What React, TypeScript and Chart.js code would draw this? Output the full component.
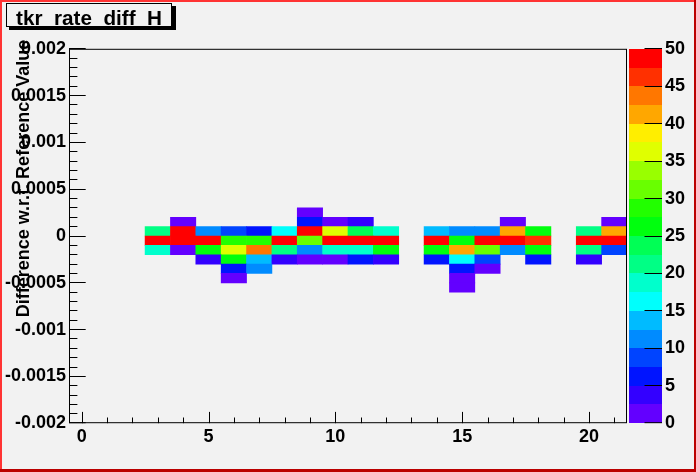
import React, { useEffect, useRef } from "react";
import { Chart, registerables } from "chart.js";

Chart.register(...registerables);

const FONT = "'Liberation Sans', Arial, Helvetica, sans-serif";

// ---------- data ----------
const chartTitle = "tkr_rate_diff_H";
const yTitle = "Difference w.r.t. Reference Value";

const xBins = [0, 1, 2, 3, 4, 5, 6, 7, 8, 9, 10, 11, 12, 13, 14, 15, 16, 17, 18, 19, 20, 21];
const yBinWidth = 0.0001;
// lower edges of the y bins that hold entries (top to bottom)
const yBinLows = [0.0002, 0.0001, 0, -0.0001, -0.0002, -0.0003, -0.0004, -0.0005, -0.0006];

// entries per x bin (0..21) for each y bin
const rowP2 = [0, 0, 0, 0, 0, 0, 0, 0, 0, 1, 0, 0, 0, 0, 0, 0, 0, 0, 0, 0, 0, 0];
const rowP1 = [0, 0, 0, 0, 1, 0, 0, 0, 0, 6, 1, 4, 0, 0, 0, 0, 0, 1, 0, 0, 0, 1];
const row0 = [0, 0, 0, 21, 55, 11, 9, 6, 16, 58, 36, 24, 19, 0, 14, 11, 11, 41, 26, 0, 21, 41];
const rowM1 = [0, 0, 0, 62, 70, 57, 29, 29, 60, 31, 66, 63, 59, 0, 61, 26, 64, 60, 46, 0, 68, 65];
const rowM2 = [0, 0, 0, 19, 1, 26, 36, 44, 21, 11, 19, 19, 26, 0, 26, 41, 31, 11, 26, 0, 21, 9];
const rowM3 = [0, 0, 0, 0, 0, 4, 26, 14, 4, 1, 1, 6, 4, 0, 6, 16, 9, 0, 6, 0, 4, 0];
const rowM4 = [0, 0, 0, 0, 0, 0, 6, 11, 0, 0, 0, 0, 0, 0, 0, 6, 1, 0, 0, 0, 0, 0];
const rowM5 = [0, 0, 0, 0, 0, 0, 1, 0, 0, 0, 0, 0, 0, 0, 0, 1, 0, 0, 0, 0, 0, 0];
const rowM6 = [0, 0, 0, 0, 0, 0, 0, 0, 0, 0, 0, 0, 0, 0, 0, 1, 0, 0, 0, 0, 0, 0];
const countRows = [rowP2, rowP1, row0, rowM1, rowM2, rowM3, rowM4, rowM5, rowM6];

const xTickValues = [0, 5, 10, 15, 20];
const xTickLabels = ["0", "5", "10", "15", "20"];
const yTickValues = [-0.002, -0.0015, -0.001, -0.0005, 0, 0.0005, 0.001, 0.0015, 0.002];
const yTickLabels = ["-0.002", "-0.0015", "-0.001", "-0.0005", "0", "0.0005", "0.001", "0.0015", "0.002"];
const zTickValues = [0, 5, 10, 15, 20, 25, 30, 35, 40, 45, 50];
const zTickLabels = ["0", "5", "10", "15", "20", "25", "30", "35", "40", "45", "50"];

const zMin = 0;
const zMax = 50;
const palette = [
  "#6300ff", "#3300ff", "#0014ff", "#0044ff", "#008bff",
  "#00bbff", "#00fffc", "#00ffcc", "#00ff85", "#00ff55",
  "#00ff0e", "#22ff00", "#69ff00", "#99ff00", "#e0ff00",
  "#ffee00", "#ffa700", "#ff7700", "#ff3000", "#ff0000",
];

const BG = "#f2f2f2";

function colorFor(v: number): string {
  const step = (zMax - zMin) / palette.length;
  const k = Math.max(0, Math.min(palette.length - 1, Math.floor((v - zMin) / step)));
  return palette[k];
}

type Cell = { x: number; y: [number, number]; v: number };
const cells: Cell[] = [];
countRows.forEach((row, r) => {
  row.forEach((v, i) => {
    if (v > 0) cells.push({ x: xBins[i], y: [yBinLows[r], yBinLows[r] + yBinWidth], v });
  });
});

const rootPlugin = {
  id: "rootDecor",
  afterLayout(chart: any) {
    // let the y tick labels use the full left margin, and end the axis title a little above the frame
    const ys = chart.scales.y;
    ys.left = 0;
    ys.width = ys.right;
    ys.top = chart.chartArea.top - 9;
  },
  beforeDraw(chart: any) {
    const ctx = chart.ctx as CanvasRenderingContext2D;
    const W = chart.width, H = chart.height;
    ctx.save();
    ctx.fillStyle = BG;
    ctx.fillRect(0, 0, W, H);
    // canvas bevel border
    ctx.fillStyle = "#ff3333";
    ctx.fillRect(0, 0, W, 2);
    ctx.fillRect(0, 0, 2, H);
    ctx.fillStyle = "#bb0000";
    ctx.fillRect(W - 2, 0, 2, H);
    ctx.fillRect(0, H - 3, W, 3);
    // title pave with shadow
    ctx.fillStyle = "#000";
    ctx.fillRect(9, 6, 167, 24);
    ctx.fillStyle = BG;
    ctx.fillRect(6, 3, 166, 24);
    ctx.strokeStyle = "#000";
    ctx.lineWidth = 1;
    ctx.strokeRect(6.5, 3.5, 165, 23);
    ctx.restore();
  },
  afterDatasetsDraw(chart: any) {
    const ctx = chart.ctx as CanvasRenderingContext2D;
    const { left, right, top, bottom } = chart.chartArea;
    const xs = chart.scales.x;
    const ys = chart.scales.y;
    const zs = chart.scales.z;
    ctx.save();
    ctx.strokeStyle = "#000";
    ctx.lineWidth = 1;
    // frame
    ctx.strokeRect(left + 0.5, top + 0.5, right - left - 1, bottom - top - 1);
    ctx.beginPath();
    // x ticks (inside, from bottom)
    for (let v = 0; v <= 21; v++) {
      const px = Math.round(xs.getPixelForValue(v)) + 0.5;
      const len = v % 5 === 0 ? 11.3 : 5.7;
      ctx.moveTo(px, bottom);
      ctx.lineTo(px, bottom - len);
    }
    // y ticks (inside, from left)
    for (let i = -20; i <= 20; i++) {
      const py = Math.min(Math.floor(ys.getPixelForValue(i * 0.0001)), bottom - 1) + 0.5;
      const len = i % 5 === 0 ? 16.7 : 8.4;
      ctx.moveTo(left, py);
      ctx.lineTo(left + len, py);
    }
    ctx.stroke();
    // colour palette bar
    const barL = 629, barW = 33;
    const n = palette.length;
    for (let k = 0; k < n; k++) {
      const y0 = Math.round(zs.getPixelForValue(zMin + (k * (zMax - zMin)) / n));
      const y1 = Math.round(zs.getPixelForValue(zMin + ((k + 1) * (zMax - zMin)) / n));
      ctx.fillStyle = palette[k];
      ctx.fillRect(barL, y1, barW, y0 - y1);
    }
    ctx.beginPath();
    for (const v of zTickValues) {
      const py = Math.min(Math.floor(zs.getPixelForValue(v)), bottom - 1) + 0.5;
      ctx.moveTo(barL + barW, py);
      ctx.lineTo(barL + barW - 17.5, py);
    }
    ctx.stroke();
    ctx.restore();
  },
};

export default function App() {
  const ref = useRef<HTMLCanvasElement | null>(null);
  useEffect(() => {
    if (!ref.current) return;
    Chart.defaults.font.family = FONT;
    const tickFont = { family: FONT, size: 18, weight: "bold" as const };
    const chart = new Chart(ref.current, {
      type: "bar",
      data: {
        datasets: [
          {
            data: cells as any,
            backgroundColor: (c: any) => colorFor(c.raw ? c.raw.v : 0),
            borderWidth: 0,
            barPercentage: 1,
            categoryPercentage: 1,
            grouped: false,
            xAxisID: "x",
            yAxisID: "y",
          } as any,
        ],
      },
      options: {
        responsive: false,
        animation: false,
        devicePixelRatio: 1,
        layout: { padding: { left: 16, top: 0, right: 0, bottom: 0 } },
        plugins: {
          legend: { display: false },
          tooltip: { enabled: false },
          title: {
            display: true,
            text: chartTitle,
            align: "start",
            color: "#000",
            font: { family: FONT, size: 20.7, weight: "bold", lineHeight: 1.2 },
            padding: { top: 5.4, bottom: 16.76 },
          },
        },
        scales: {
          x: {
            type: "linear",
            position: "bottom",
            min: -0.5,
            max: 21.5,
            offset: false,
            grid: { display: false, drawTicks: false },
            border: { display: false },
            afterBuildTicks: (s: any) => {
              s.ticks = xTickValues.map((v) => ({ value: v }));
            },
            afterFit: (s: any) => {
              s.height = 47;
            },
            ticks: {
              autoSkip: false,
              maxRotation: 0,
              minRotation: 0,
              padding: 3,
              color: "#000",
              font: tickFont,
              callback: (_v: any, i: number) => xTickLabels[i],
            },
          },
          y: {
            type: "linear",
            position: "left",
            min: -0.002,
            max: 0.002,
            grid: { display: false, drawTicks: false },
            border: { display: false },
            afterBuildTicks: (s: any) => {
              s.ticks = yTickValues.map((v) => ({ value: v }));
            },
            afterFit: (s: any) => {
              s.width = 53;
            },
            ticks: {
              autoSkip: false,
              padding: 3,
              color: "#000",
              font: tickFont,
              callback: (_v: any, i: number) => yTickLabels[i],
            },
            title: {
              display: true,
              text: yTitle,
              align: "end",
              color: "#000",
              padding: 0,
              font: { family: FONT, size: 18, weight: "bold", lineHeight: "48px" },
            },
          },
          z: {
            type: "linear",
            position: "right",
            min: zMin,
            max: zMax,
            grid: { display: false, drawTicks: false },
            border: { display: false },
            afterBuildTicks: (s: any) => {
              s.ticks = zTickValues.map((v) => ({ value: v }));
            },
            afterFit: (s: any) => {
              s.width = 69;
            },
            ticks: {
              autoSkip: false,
              padding: 38,
              color: "#000",
              font: tickFont,
              callback: (_v: any, i: number) => zTickLabels[i],
            },
          },
        } as any,
      },
      plugins: [rootPlugin],
    });
    return () => chart.destroy();
  }, []);
  return (
    <div style={{ position: "absolute", left: 0, top: 0, width: 696, height: 472 }}>
      <canvas ref={ref} width={696} height={472} style={{ display: "block" }} />
    </div>
  );
}
